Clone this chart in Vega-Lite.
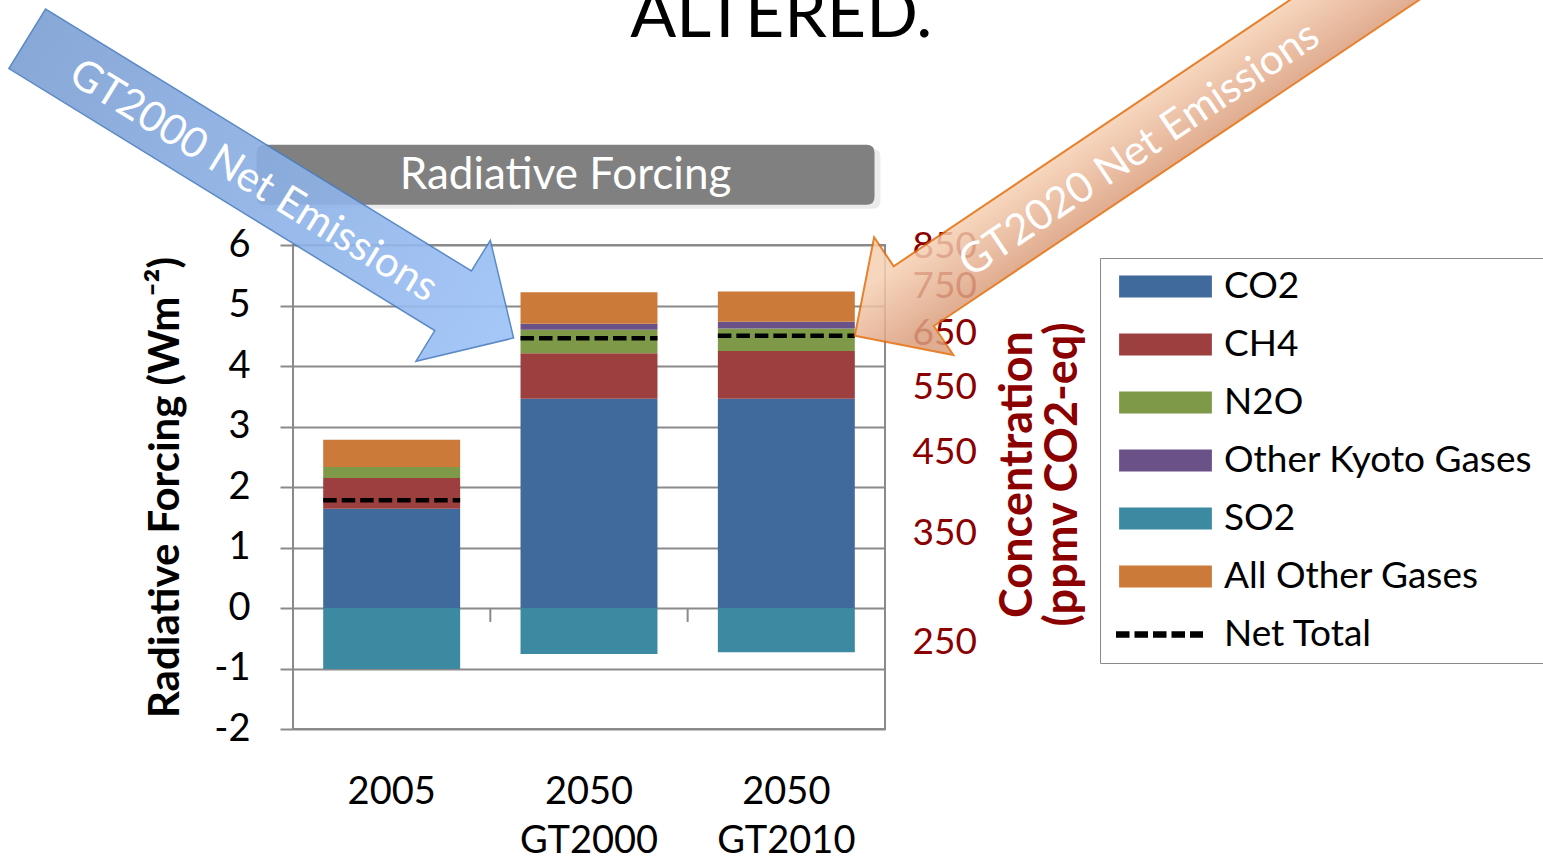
{
  "$schema": "https://vega.github.io/schema/vega-lite/v6.json",
  "usermeta": {"embedOptions": {"actions": false}},
  "autosize": {"type": "none"},
  "width": 592,
  "height": 484,
  "padding": {"left": 293, "top": 245, "right": 658, "bottom": 131},
  "background": "white",
  "datasets": {
    "forcing": [
      {"scenario": "2005", "gas": "CO2", "forcing": 1.64, "stack_rank": 1},
      {"scenario": "2005", "gas": "CH4", "forcing": 0.51, "stack_rank": 2},
      {"scenario": "2005", "gas": "N2O", "forcing": 0.18, "stack_rank": 3},
      {"scenario": "2005", "gas": "Other Kyoto Gases", "forcing": 0.0, "stack_rank": 4},
      {"scenario": "2005", "gas": "SO2", "forcing": -1.01, "stack_rank": 5},
      {"scenario": "2005", "gas": "All Other Gases", "forcing": 0.45, "stack_rank": 6},
      {"scenario": "2050\nGT2000", "gas": "CO2", "forcing": 3.46, "stack_rank": 1},
      {"scenario": "2050\nGT2000", "gas": "CH4", "forcing": 0.75, "stack_rank": 2},
      {"scenario": "2050\nGT2000", "gas": "N2O", "forcing": 0.39, "stack_rank": 3},
      {"scenario": "2050\nGT2000", "gas": "Other Kyoto Gases", "forcing": 0.10, "stack_rank": 4},
      {"scenario": "2050\nGT2000", "gas": "SO2", "forcing": -0.76, "stack_rank": 5},
      {"scenario": "2050\nGT2000", "gas": "All Other Gases", "forcing": 0.52, "stack_rank": 6},
      {"scenario": "2050\nGT2010", "gas": "CO2", "forcing": 3.46, "stack_rank": 1},
      {"scenario": "2050\nGT2010", "gas": "CH4", "forcing": 0.79, "stack_rank": 2},
      {"scenario": "2050\nGT2010", "gas": "N2O", "forcing": 0.37, "stack_rank": 3},
      {"scenario": "2050\nGT2010", "gas": "Other Kyoto Gases", "forcing": 0.11, "stack_rank": 4},
      {"scenario": "2050\nGT2010", "gas": "SO2", "forcing": -0.73, "stack_rank": 5},
      {"scenario": "2050\nGT2010", "gas": "All Other Gases", "forcing": 0.50, "stack_rank": 6}
    ],
    "net": [
      {"scenario": "2005", "gas": "Net Total", "net_forcing": 1.78, "net_ppmv": 387.7},
      {"scenario": "2050\nGT2000", "gas": "Net Total", "net_forcing": 4.46, "net_ppmv": 639.9},
      {"scenario": "2050\nGT2010", "gas": "Net Total", "net_forcing": 4.50, "net_ppmv": 644.7}
    ],
    "callouts": [
      {"scenario": "2050\nGT2000", "callout": "GT2000 Net Emissions", "net_forcing": 4.46},
      {"scenario": "2050\nGT2010", "callout": "GT2020 Net Emissions", "net_forcing": 4.50}
    ],
    "panel": [
      {"heading": "Radiative Forcing"}
    ],
    "banner": [
      {"caption": "ALTERED."}
    ]
  },
  "layer": [
    {
      "data": {"name": "forcing"},
      "mark": {"type": "bar"},
      "encoding": {
        "x": {
          "field": "scenario",
          "type": "nominal",
          "title": null,
          "sort": null,
          "scale": {
            "domain": ["2005", "2050\nGT2000", "2050\nGT2010"],
            "paddingInner": 0.306,
            "paddingOuter": 0.153
          },
          "axis": {
            "orient": "bottom",
            "ticks": false,
            "domain": false,
            "grid": false,
            "labelAngle": 0,
            "labelFont": "Lato",
            "labelFontSize": 38,
            "labelColor": "black",
            "labelPadding": 44,
            "labelLineHeight": 49,
            "labelExpr": "split(datum.label, '\\n')"
          }
        },
        "y": {
          "field": "forcing",
          "type": "quantitative",
          "stack": "zero",
          "scale": {"domain": [-2, 6], "nice": false, "zero": false},
          "axis": {
            "orient": "left",
            "values": [-2, -1, 0, 1, 2, 3, 4, 5, 6],
            "labelExpr": "'' + datum.value",
            "grid": true,
            "gridColor": "#8a8a8a",
            "gridWidth": 2,
            "tickColor": "#8a8a8a",
            "tickWidth": 2,
            "tickSize": 13,
            "domain": false,
            "labelFont": "Lato",
            "labelFontSize": 38,
            "labelColor": "black",
            "labelPadding": 30,
            "labelOverlap": false,
            "labelFlush": false,
            "title": "Radiative Forcing (Wm⁻²)",
            "titleFont": "Lato",
            "titleFontSize": 42,
            "titleFontWeight": "bold",
            "titleColor": "black",
            "titlePadding": 26
          }
        },
        "color": {
          "field": "gas",
          "type": "nominal",
          "scale": {
            "domain": ["CO2", "CH4", "N2O", "Other Kyoto Gases", "SO2", "All Other Gases", "Net Total"],
            "range": ["#416A9C", "#9C3F3E", "#7E9A48", "#6A5187", "#3C8AA2", "#CB7A39", "transparent"]
          },
          "legend": {
            "orient": "none",
            "legendX": 807,
            "legendY": 13,
            "title": null,
            "direction": "vertical",
            "padding": 10,
            "strokeColor": "#8a8a8a",
            "labelFont": "Lato",
            "labelFontSize": 37,
            "labelColor": "black",
            "labelLimit": 500,
            "symbolType": "M-4,-0.95H4V0.95H-4Z",
            "symbolSize": 538,
            "symbolOffset": 37,
            "labelOffset": 40,
            "rowPadding": 20
          }
        },
        "order": {"field": "stack_rank", "type": "quantitative"}
      }
    },
    {
      "data": {"name": "net"},
      "mark": {"type": "rule", "color": "#000000", "strokeWidth": 4.5},
      "encoding": {
        "x": {"field": "scenario", "type": "nominal", "bandPosition": 0, "title": null},
        "x2": {"field": "scenario", "bandPosition": 1},
        "y": {
          "field": "net_ppmv",
          "type": "quantitative",
          "scale": {"type": "log", "domain": [191.3, 853.3], "nice": false},
          "axis": {
            "orient": "right",
            "values": [250, 350, 450, 550, 650, 750, 850],
            "labelExpr": "format(datum.value, 'd')",
            "ticks": false,
            "domain": false,
            "grid": false,
            "labelFont": "Lato",
            "labelFontSize": 37,
            "labelColor": "#8B0000",
            "labelPadding": 27,
            "labelOverlap": false,
            "labelFlush": false,
            "title": ["Concentration", "(ppmv CO2-eq)"],
            "titleFont": "Lato",
            "titleFontSize": 45,
            "titleFontWeight": "bold",
            "titleColor": "#8B0000",
            "titleAngle": 270,
            "titleBaseline": "top",
            "titleLineHeight": 45,
            "titleX": 110,
            "titleY": 229
          }
        },
        "strokeDash": {
          "field": "gas",
          "type": "nominal",
          "scale": {"domain": ["Net Total"], "range": [[13.5, 5]]},
          "legend": {
            "orient": "none",
            "legendX": 807,
            "legendY": 371,
            "title": null,
            "padding": 0,
            "labelFont": "Lato",
            "labelFontSize": 37,
            "labelExpr": "''",
            "symbolType": "M-3.75,0H3.75",
            "symbolSize": 538,
            "symbolOffset": 41,
            "symbolStrokeColor": "#000000",
            "symbolStrokeWidth": 6.5
          }
        }
      }
    },
    {
      "layer": [
        {
          "data": {"name": "net"},
          "transform": [{"filter": "datum.scenario !== '2005'"}],
          "mark": {"type": "rule", "color": "#8a8a8a", "strokeWidth": 2},
          "encoding": {
            "x": {"field": "scenario", "type": "nominal", "bandPosition": -0.2206, "title": null},
            "y": {"datum": 0, "type": "quantitative", "scale": {"domain": [-2, 6], "nice": false, "zero": false}, "axis": null},
            "y2": {"datum": -0.23}
          }
        },
        {
          "data": {"name": "banner"},
          "mark": {
            "type": "text",
            "font": "Lato",
            "fontSize": 68,
            "color": "#000000",
            "align": "center",
            "baseline": "alphabetic",
            "dx": -5
          },
          "encoding": {
            "x": {"datum": "2050\nGT2010", "type": "nominal", "title": null},
            "y": {"datum": 9.44, "type": "quantitative", "axis": null},
            "text": {"field": "caption"}
          }
        },
        {
          "data": {"name": "panel"},
          "mark": {
            "type": "point",
            "filled": true,
            "size": 4,
            "shape": "M-322.5,-26H283.5Q291.5,-26 291.5,-18V26Q291.5,34 283.5,34H-322.5Q-330.5,34 -330.5,26V-18Q-330.5,-26 -322.5,-26Z",
            "fill": "#000000",
            "opacity": 0.08,
            "strokeWidth": 0
          },
          "encoding": {
            "x": {"datum": "2050\nGT2000", "type": "nominal", "title": null},
            "y": {"datum": 7.16, "type": "quantitative", "axis": null}
          }
        },
        {
          "data": {"name": "panel"},
          "mark": {
            "type": "point",
            "filled": true,
            "size": 4,
            "shape": "M-324.5,-30H277.5Q285.5,-30 285.5,-22V22Q285.5,30 277.5,30H-324.5Q-332.5,30 -332.5,22V-22Q-332.5,-30 -324.5,-30Z",
            "fill": "#808080",
            "opacity": 1,
            "strokeWidth": 0
          },
          "encoding": {
            "x": {"datum": "2050\nGT2000", "type": "nominal", "title": null},
            "y": {"datum": 7.16, "type": "quantitative", "axis": null}
          }
        },
        {
          "data": {"name": "panel"},
          "mark": {
            "type": "text",
            "font": "Lato",
            "fontSize": 44,
            "color": "#FFFFFF",
            "align": "center",
            "baseline": "middle",
            "dx": -23.5,
            "dy": 1
          },
          "encoding": {
            "x": {"datum": "2050\nGT2000", "type": "nominal", "title": null},
            "y": {"datum": 7.16, "type": "quantitative", "axis": null},
            "text": {"field": "heading"}
          }
        },
        {
          "data": {"name": "callouts"},
          "transform": [{"filter": "datum.callout === 'GT2000 Net Emissions'"}],
          "mark": {
            "type": "point",
            "filled": true,
            "size": 4,
            "angle": 31.6,
            "shape": "M-6,3.5L-77,-67.5L-77,-31.5L-577,-31.5L-577,38.5L-77,38.5L-77,74.5Z",
            "fill": {
              "gradient": "linear",
              "x1": 0, "y1": 0, "x2": 1, "y2": 0,
              "stops": [
                {"offset": 0, "color": "#7C9FD3"},
                {"offset": 1, "color": "#9CC2F8"}
              ]
            },
            "stroke": "#4A7EC0",
            "strokeWidth": 1.5,
            "opacity": 0.9
          },
          "encoding": {
            "x": {"field": "scenario", "type": "nominal", "bandPosition": 0, "title": null},
            "y": {"field": "net_forcing", "type": "quantitative", "axis": null}
          }
        },
        {
          "data": {"name": "callouts"},
          "transform": [{"filter": "datum.callout === 'GT2000 Net Emissions'"}],
          "mark": {
            "type": "text",
            "font": "Lato",
            "fontSize": 42,
            "color": "#FFFFFF",
            "angle": 31.6,
            "align": "center",
            "baseline": "middle",
            "dx": -310,
            "dy": 6
          },
          "encoding": {
            "x": {"field": "scenario", "type": "nominal", "bandPosition": 0, "title": null},
            "y": {"field": "net_forcing", "type": "quantitative", "axis": null},
            "text": {"field": "callout"}
          }
        },
        {
          "data": {"name": "callouts"},
          "transform": [{"filter": "datum.callout === 'GT2020 Net Emissions'"}],
          "mark": {
            "type": "point",
            "filled": true,
            "size": 4,
            "angle": 146.1,
            "shape": "M0,0L-71,-71L-71,-36L-660,-36L-660,36L-71,36L-71,71Z",
            "fill": {
              "gradient": "linear",
              "x1": 0, "y1": 0, "x2": 0, "y2": 1,
              "stops": [
                {"offset": 0.25, "color": "#DC9F7E"},
                {"offset": 0.75, "color": "#F6D0B3"}
              ]
            },
            "stroke": "#E36C0A",
            "strokeWidth": 2,
            "opacity": 0.85
          },
          "encoding": {
            "x": {"field": "scenario", "type": "nominal", "bandPosition": 1, "title": null},
            "y": {"field": "net_forcing", "type": "quantitative", "axis": null}
          }
        },
        {
          "data": {"name": "callouts"},
          "transform": [{"filter": "datum.callout === 'GT2020 Net Emissions'"}],
          "mark": {
            "type": "text",
            "font": "Lato",
            "fontSize": 42,
            "color": "#FFFFFF",
            "angle": -33.9,
            "align": "center",
            "baseline": "middle",
            "dx": 340,
            "dy": 4
          },
          "encoding": {
            "x": {"field": "scenario", "type": "nominal", "bandPosition": 1, "title": null},
            "y": {"field": "net_forcing", "type": "quantitative", "axis": null},
            "text": {"field": "callout"}
          }
        }
      ]
    }
  ],
  "resolve": {"scale": {"y": "independent"}, "axis": {"y": "independent"}},
  "config": {
    "font": "Lato",
    "view": {"stroke": "#8a8a8a", "strokeWidth": 2}
  }
}
